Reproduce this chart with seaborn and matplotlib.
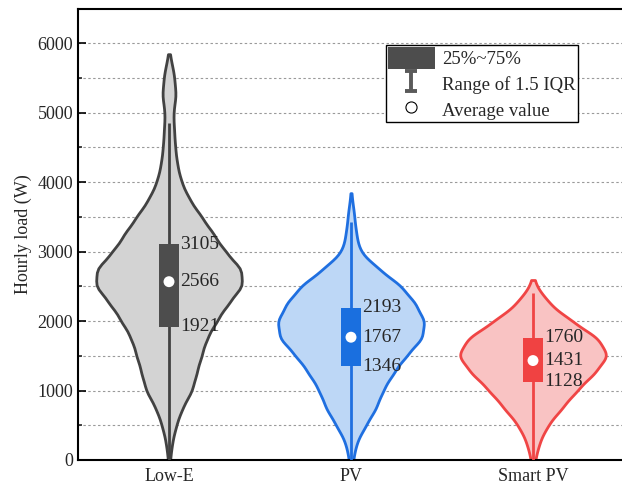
import numpy as np
import pandas as pd
import matplotlib
matplotlib.use("Agg")
import matplotlib.pyplot as plt
import seaborn as sns
from matplotlib.patches import Patch
from matplotlib.lines import Line2D
from matplotlib.path import Path
from matplotlib.ticker import MultipleLocator

# ---------------- data ----------------
categories = ["Low-E", "PV", "Smart PV"]

# density profile: load levels (W) and relative violin half-widths at each level
lowe_levels = [0, 250, 500, 750, 1000, 1250, 1500, 1750, 2000, 2250, 2500, 2750,
               3000, 3250, 3500, 3750, 4000, 4250, 4500, 4750, 5000, 5250, 5500, 5700]
lowe_widths = [1, 3, 7, 13, 23, 27, 32, 37, 47, 58, 73, 72,
               55, 44, 32, 20, 12, 8, 6, 5, 4, 7, 5, 2]

pv_levels = [0, 250, 500, 750, 1000, 1250, 1500, 1750, 2000, 2250, 2500, 2750,
             3000, 3250, 3500, 3700]
pv_widths = [2, 5, 14, 24, 30, 40, 52, 68, 70, 61, 48, 26,
             8, 5, 3, 1]

spv_levels = [0, 250, 500, 750, 1000, 1250, 1500, 1750, 2000, 2250, 2450]
spv_widths = [2, 6, 14, 28, 42, 59, 73, 63, 37, 15, 3]

q1_vals = [1921, 1346, 1128]
mean_vals = [2566, 1767, 1431]
q3_vals = [3105, 2193, 1760]
whisk_low = [0, 0, 0]
whisk_high = [4850, 3425, 2400]

fill_colors = ["#d3d3d3", "#bdd7f6", "#f9c3c3"]
edge_colors = ["#424242", "#1f6fe0", "#f04545"]
box_colors = ["#4d4d4d", "#1a6fdf", "#f04242"]

levels_all = [lowe_levels, pv_levels, spv_levels]
widths_all = [lowe_widths, pv_widths, spv_widths]

frames = []
for cat, lv, wd in zip(categories, levels_all, widths_all):
    vals = np.repeat(np.array(lv, float), np.array(wd) * 4)
    frames.append(pd.DataFrame({"case": cat, "load": vals}))
df = pd.concat(frames, ignore_index=True)

# ---------------- plot ----------------
sns.set_style("ticks")
plt.rcParams["font.family"] = ["Liberation Serif", "DejaVu Serif"]

fig = plt.figure(figsize=(6.22, 4.87), dpi=100)
ax = fig.add_axes([78 / 622, 27 / 487, 546 / 622, 451 / 487])

for i, cat in enumerate(categories):
    sub = df[df["case"] == cat]
    bw = 140.0 / sub["load"].std()
    sns.violinplot(data=sub, x="case", y="load", order=categories, ax=ax,
                   color=fill_colors[i], linecolor=edge_colors[i], linewidth=2,
                   inner=None, cut=1, density_norm="width", width=0.8,
                   bw_method=bw, saturation=1)

for coll in ax.collections:
    coll.set_zorder(2)

xs = np.arange(len(categories))
ax.vlines(xs, whisk_low, whisk_high, colors=edge_colors, linewidth=2, zorder=3)
ax.bar(xs, np.array(q3_vals) - np.array(q1_vals), bottom=q1_vals, width=0.11,
       color=box_colors, edgecolor="none", zorder=4)
ax.scatter(xs, mean_vals, s=62, color="white", edgecolor="none", zorder=5)

for i in range(len(categories)):
    for v in (q3_vals[i], mean_vals[i], q1_vals[i]):
        ax.text(xs[i] + 0.06, v, f"{v}", fontsize=14, va="center", ha="left",
                zorder=6)

ax.set_xlim(-0.5, 2.5)
ax.set_ylim(0, 6490)
ax.set_xlabel("")
ax.set_ylabel("Hourly load (W)", fontsize=13)
ax.yaxis.set_major_locator(MultipleLocator(1000))
ax.yaxis.set_minor_locator(MultipleLocator(500))
ax.yaxis.grid(True, which="both", linestyle=(0, (2.2, 2.2)), color="#9a9a9a",
              linewidth=0.8, zorder=0)
ax.set_axisbelow(True)
ax.tick_params(axis="both", which="major", direction="in", length=6, width=1.2,
               labelsize=13, color="black")
ax.tick_params(axis="y", which="minor", direction="in", length=3, width=1.2)
ax.tick_params(axis="x", pad=6)
for s in ["left", "bottom", "top"]:
    ax.spines[s].set_visible(True)
    ax.spines[s].set_color("black")
    ax.spines[s].set_linewidth(1.5)
ax.spines["right"].set_visible(False)

# legend
ibeam = Path([(-0.6, 1), (0.6, 1), (0, 1), (0, -1), (-0.6, -1), (0.6, -1)],
             [Path.MOVETO, Path.LINETO, Path.MOVETO, Path.LINETO, Path.MOVETO, Path.LINETO])
handles = [
    Patch(facecolor="#4d4d4d", edgecolor="none"),
    Line2D([], [], linestyle="none", marker=ibeam, markersize=15, markeredgewidth=2.8,
           color="#5a5a5a"),
    Line2D([], [], linestyle="none", marker="o", markersize=8, markerfacecolor="white",
           markeredgecolor="black", markeredgewidth=0.8),
]
labels = ["25%~75%", "Range of 1.5 IQR", "Average value"]
leg = fig.legend(handles, labels, loc="upper left",
                 bbox_to_anchor=(386 / 622, 1 - 45 / 487), fontsize=13.5,
                 frameon=True, fancybox=False, framealpha=1, edgecolor="black",
                 handlelength=2.5, handleheight=1.4, handletextpad=0.4,
                 labelspacing=0.22, borderpad=0.1, borderaxespad=0)
leg.get_frame().set_linewidth(1.0)

fig.savefig("out.png", dpi=100)
